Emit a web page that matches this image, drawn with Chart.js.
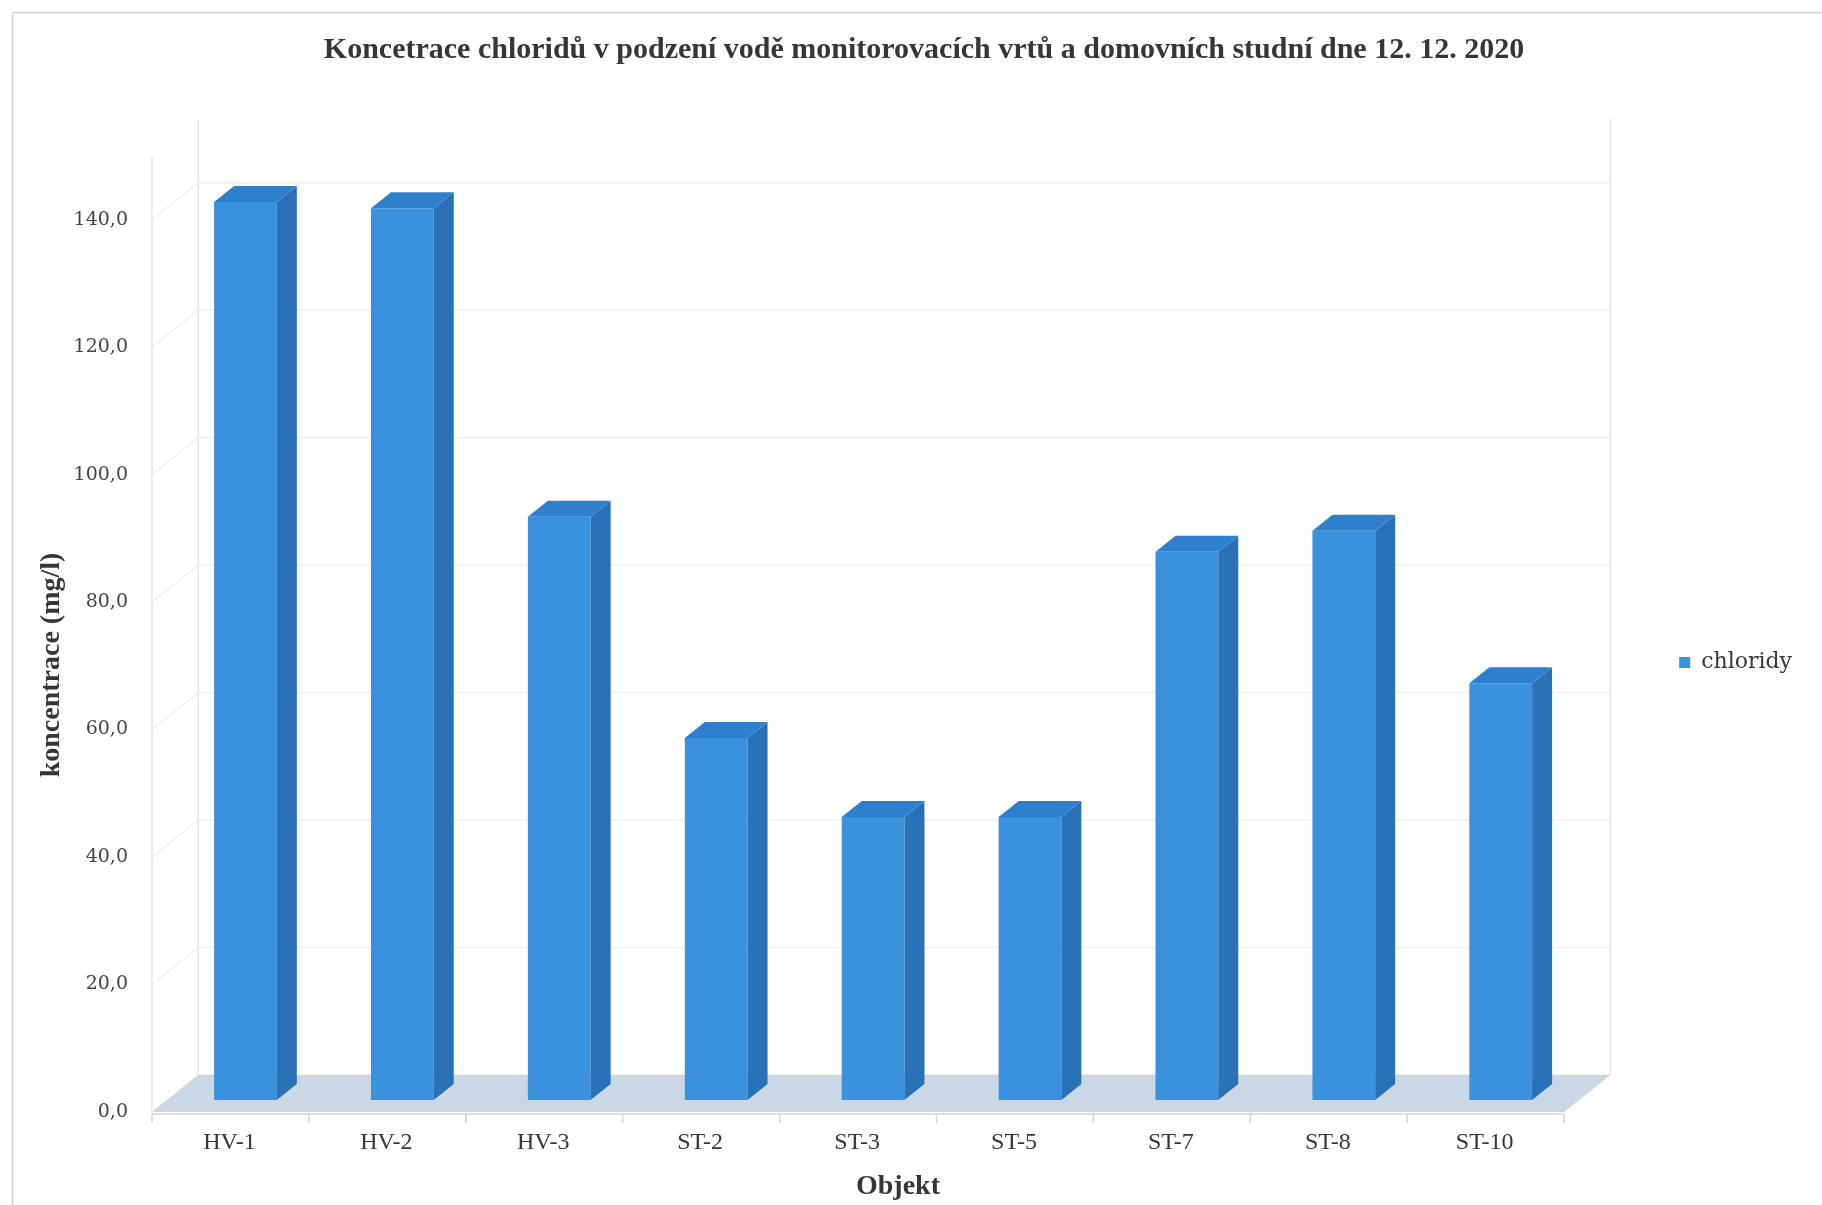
<!DOCTYPE html>
<html>
<head>
<meta charset="utf-8">
<script src="https://cdn.jsdelivr.net/npm/chart.js@4/dist/chart.umd.min.js"></script>
<style>
  html, body { margin: 0; padding: 0; background: #fff; }
  #wrap { width: 1822px; height: 1205px; }
</style>
</head>
<body>
<div id="wrap"><canvas id="chloride-chart"></canvas></div>
<script>
const objects = ['HV-1', 'HV-2', 'HV-3', 'ST-2', 'ST-3', 'ST-5', 'ST-7', 'ST-8', 'ST-10'];
const chlorides = [140.9, 139.9, 91.5, 56.8, 44.4, 44.4, 86.0, 89.3, 65.4];
const yTicks = [0, 20, 40, 60, 80, 100, 120, 140];
const yTitle = 'koncentrace (mg/l)';
const xTitle = 'Objekt';

// fake 3D: depth of the bars and of the floor, measured from the bars' front plane
const BAR_DX = 20, BAR_DY = 16;
const FLOOR_FRONT = 12, FLOOR_BACK = 25, SLANT = 1.25;

const serif = 'Liberation Serif';
const textColor = '#363636';

function line(ctx, x1, y1, x2, y2) {
  ctx.beginPath();
  ctx.moveTo(x1, y1);
  ctx.lineTo(x2, y2);
  ctx.stroke();
}

function poly(ctx, pts, color) {
  ctx.beginPath();
  ctx.moveTo(pts[0][0], pts[0][1]);
  pts.slice(1).forEach(p => ctx.lineTo(p[0], p[1]));
  ctx.closePath();
  ctx.fillStyle = color;
  ctx.fill();
}

const box3d = {
  id: 'box3d',
  beforeDraw(chart) {
    const ctx = chart.ctx;
    ctx.save();
    ctx.strokeStyle = '#d2d2d2';
    ctx.lineWidth = 1.5;
    ctx.strokeRect(12.5, 12.5, chart.width + 20, chart.height + 20);
    ctx.restore();
  },
  beforeDatasetsDraw(chart) {
    const {ctx, chartArea: a, scales: {y}} = chart;
    const y0 = y.getPixelForValue(0);
    const top = y.getPixelForValue(y.max);
    const fl = a.left - FLOOR_FRONT * SLANT, fr = a.right - FLOOR_FRONT * SLANT, fy = y0 + FLOOR_FRONT;
    const bl = a.left + FLOOR_BACK * SLANT, br = a.right + FLOOR_BACK * SLANT, by = y0 - FLOOR_BACK;
    ctx.save();
    // walls and gridlines
    ctx.strokeStyle = '#f0f0f0';
    ctx.lineWidth = 1.5;
    yTicks.forEach(v => {
      const py = y.getPixelForValue(v);
      line(ctx, fl, py + FLOOR_FRONT, bl, py - FLOOR_BACK);
      line(ctx, bl, py - FLOOR_BACK, br, py - FLOOR_BACK);
    });
    ctx.strokeStyle = '#e6e6e6';
    line(ctx, fl, fy, fl, top + FLOOR_FRONT);
    line(ctx, bl, by, bl, top - FLOOR_BACK);
    line(ctx, br, by, br, top - FLOOR_BACK);
    // floor
    poly(ctx, [[fl, fy], [bl, by], [br, by], [fr, fy]], '#c9d8e4');
    // category axis with ticks between categories
    ctx.strokeStyle = '#d4d4d4';
    line(ctx, fl, fy + 2, fr, fy + 2);
    const cw = (a.right - a.left) / objects.length;
    for (let i = 0; i <= objects.length; i++) {
      const tx = a.left + i * cw - FLOOR_FRONT * SLANT;
      line(ctx, tx, fy + 2, tx, fy + 11);
    }
    ctx.restore();
  },
  afterDatasetsDraw(chart) {
    const ctx = chart.ctx;
    ctx.save();
    chart.getDatasetMeta(0).data.forEach(bar => {
      const {x, y, base, width} = bar.getProps(['x', 'y', 'base', 'width'], true);
      const l = x - width / 2, r = x + width / 2;
      poly(ctx, [[r, y], [r + BAR_DX, y - BAR_DY], [r + BAR_DX, base - BAR_DY], [r, base]], '#2a72b8');
      poly(ctx, [[l, y], [l + BAR_DX, y - BAR_DY], [r + BAR_DX, y - BAR_DY], [r, y]], '#2f80cc');
    });
    ctx.restore();
  },
  afterDraw(chart) {
    // axis titles
    const ctx = chart.ctx;
    ctx.save();
    ctx.fillStyle = textColor;
    ctx.font = 'bold 28px "' + serif + '"';
    ctx.textAlign = 'center';
    ctx.textBaseline = 'middle';
    ctx.fillText(xTitle, 898, 1187);
    ctx.translate(52, 665);
    ctx.rotate(-Math.PI / 2);
    ctx.fillText(yTitle, 0, 0);
    ctx.restore();
  }
};

new Chart(document.getElementById('chloride-chart'), {
  type: 'bar',
  data: {
    labels: objects,
    datasets: [{
      label: 'chloridy',
      data: chlorides,
      backgroundColor: '#3a92de',
      borderWidth: 0,
      barPercentage: 0.4,
      categoryPercentage: 1
    }]
  },
  options: {
    responsive: true,
    maintainAspectRatio: false,
    animation: false,
    layout: { padding: { top: 10, left: 46, right: 20, bottom: 0 } },
    plugins: {
      title: {
        display: true,
        text: 'Koncetrace chloridů v podzení vodě monitorovacích vrtů a domovních studní dne 12. 12. 2020',
        font: { family: serif, size: 30, weight: 'bold' },
        color: textColor,
        padding: { top: 22, bottom: 75.9 }
      },
      legend: {
        position: 'right',
        title: { display: true, text: ' ', font: { size: 10 }, padding: { top: 98, bottom: 0 } },
        labels: {
          boxWidth: 11,
          boxHeight: 11,
          padding: 100,
          color: textColor,
          font: { family: 'DejaVu Serif', size: 22 }
        }
      },
      tooltip: { enabled: false }
    },
    scales: {
      x: {
        grid: { display: false, drawTicks: false },
        border: { display: false },
        ticks: {
          padding: 28.6,
          labelOffset: -16,
          color: textColor,
          font: { family: serif, size: 24 }
        },
        afterFit: scale => { scale.height = 105; }
      },
      y: {
        min: 0,
        max: 150,
        grid: { display: false, drawTicks: false },
        border: { display: false },
        afterBuildTicks: scale => { scale.ticks = yTicks.map(v => ({ value: v })); },
        ticks: {
          padding: 39,
          labelOffset: 12,
          color: '#444',
          font: { family: 'DejaVu Serif', size: 19 },
          callback: v => v.toFixed(1).replace('.', ',')
        },
        afterFit: scale => { scale.width = 121; }
      }
    }
  },
  plugins: [box3d]
});
</script>
</body>
</html>
